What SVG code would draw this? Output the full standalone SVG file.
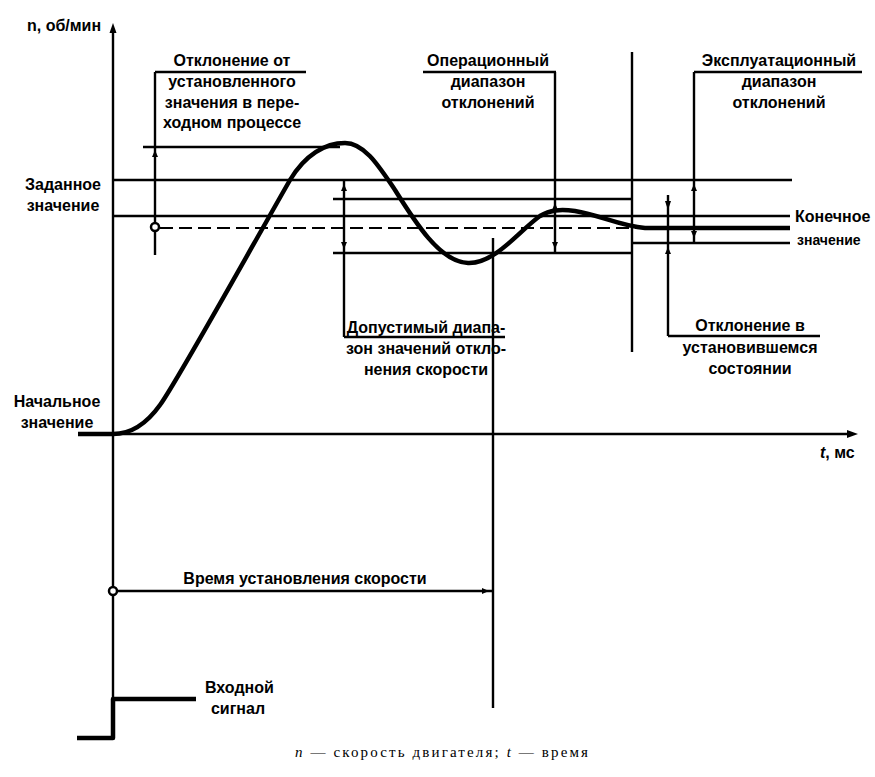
<svg xmlns="http://www.w3.org/2000/svg" width="875" height="777" viewBox="0 0 875 777">
<style>
.ln{stroke:#000;stroke-width:2.4;fill:none}
.th{stroke:#000;stroke-width:4.5;fill:none;stroke-linejoin:round}
.ds{stroke:#000;stroke-width:2.2;fill:none;stroke-dasharray:13 6}
.t{font-family:"Liberation Sans",Arial,sans-serif;font-weight:bold;font-size:16px;fill:#000}
.m{text-anchor:middle}
.cap{font-family:"Liberation Serif","Times New Roman",serif;font-size:15px;fill:#000}
.tk{fill:#000}
.dot{fill:#fff;stroke:#000;stroke-width:2.5}
</style>
<rect width="875" height="777" fill="#fff"/>
<g id="axes">
<line class="ln" x1="113" y1="30" x2="113" y2="698"/>
<path class="tk" d="M113 23 L109.5 33 L116.5 33 Z"/>
<line class="ln" x1="113" y1="434" x2="850" y2="434"/>
<path class="tk" d="M858 434 L847 430 L847 438 Z"/>
<text class="t" x="27" y="31">n, об/мин</text>
<text class="t" x="820" y="458"><tspan font-style="italic">t</tspan>, мс</text>
</g>
<g id="connectors">
<line class="ln" x1="143" y1="147" x2="340" y2="147"/>
<line class="ln" x1="113" y1="180" x2="792" y2="180"/>
<line class="ln" x1="333" y1="199" x2="632" y2="199"/>
<line class="ln" x1="113" y1="216" x2="790" y2="216"/>
<line class="ds" x1="160" y1="228" x2="640" y2="228"/>
<line class="ln" x1="632" y1="243" x2="790" y2="243"/>
<line class="ln" x1="333" y1="253" x2="632" y2="253"/>
<line class="ln" x1="155" y1="72" x2="306" y2="72"/>
<line class="ln" x1="155" y1="72" x2="155" y2="255"/>
<line class="ln" x1="423" y1="72" x2="556" y2="72"/>
<line class="ln" x1="555" y1="72" x2="555" y2="253"/>
<line class="ln" x1="694" y1="72" x2="862" y2="72"/>
<line class="ln" x1="694" y1="72" x2="694" y2="243"/>
<line class="ln" x1="632" y1="52" x2="632" y2="352"/>
<line class="ln" x1="344" y1="180" x2="344" y2="337"/>
<line class="ln" x1="344" y1="337" x2="505" y2="337"/>
<line class="ln" x1="668" y1="195" x2="668" y2="336"/>
<line class="ln" x1="668" y1="336" x2="820" y2="336"/>
<line class="ln" x1="493" y1="238" x2="493" y2="708"/>
<line class="ln" x1="113" y1="591" x2="493" y2="591"/>
<path class="tk" d="M155 150 L152 157 L158 157 Z"/>
<path class="tk" d="M344 184 L341 191 L347 191 Z"/>
<path class="tk" d="M344 249 L341 242 L347 242 Z"/>
<path class="tk" d="M555 203 L552 210 L558 210 Z"/>
<path class="tk" d="M555 249 L552 242 L558 242 Z"/>
<path class="tk" d="M694 184 L691 191 L697 191 Z"/>
<path class="tk" d="M694 238 L691 231 L697 231 Z"/>
<path class="tk" d="M668 210 L665 201 L671 201 Z"/>
<path class="tk" d="M668 247 L665 254 L671 254 Z"/>
<path class="tk" d="M489 591 L482 588 L482 594 Z"/>
<circle class="dot" cx="155" cy="227" r="4"/>
<circle class="dot" cx="113" cy="591" r="4"/>
</g>
<g id="curve">
<path class="th" d="M78 434 L113 434 C130 434 145 426 160 405 C175 385 250 250 290 180 C305 155 325 143 345 143 C365 143 380 168 395 190 C415 222 440 262 468 263 C495 264 520 230 540 216 C550 210 560 209 575 211 C600 215 620 226 645 228 L790 228"/>
</g>
<g id="input-signal">
<path class="th" d="M77 738 L113 738 L113 699 L196 699"/>
<text class="t" x="205" y="693">Входной</text>
<text class="t m" x="238" y="714">сигнал</text>
</g>
<g id="label-transient">
<text class="t m" x="232" y="66">Отклонение от</text>
<text class="t m" x="232" y="87">установленного</text>
<text class="t m" x="232" y="108">значения в пере-</text>
<text class="t m" x="232" y="128">ходном процессе</text>
</g>
<g id="label-operational">
<text class="t m" x="488" y="66">Операционный</text>
<text class="t m" x="488" y="87">диапазон</text>
<text class="t m" x="488" y="108">отклонений</text>
</g>
<g id="label-exploitation">
<text class="t m" x="779" y="66">Эксплуатационный</text>
<text class="t m" x="779" y="87">диапазон</text>
<text class="t m" x="779" y="108">отклонений</text>
</g>
<g id="label-setpoint">
<text class="t m" x="63" y="190">Заданное</text>
<text class="t m" x="63" y="211">значение</text>
</g>
<g id="label-final">
<text class="t" x="795" y="222">Конечное</text>
<text class="t" x="797" y="245" style="font-size:14px">значение</text>
</g>
<g id="label-permissible">
<text class="t m" x="426" y="333">Допустимый диапа-</text>
<text class="t m" x="426" y="354">зон значений откло-</text>
<text class="t m" x="426" y="375">нения скорости</text>
</g>
<g id="label-steady">
<text class="t m" x="750" y="331">Отклонение в</text>
<text class="t m" x="750" y="353">установившемся</text>
<text class="t m" x="750" y="374">состоянии</text>
</g>
<g id="label-initial">
<text class="t m" x="57" y="407">Начальное</text>
<text class="t m" x="57" y="428">значение</text>
</g>
<g id="label-settling">
<text class="t m" x="305" y="584">Время установления скорости</text>
</g>
<g id="caption">
<text class="cap" x="295" y="757" textLength="293" lengthAdjust="spacing"><tspan font-style="italic">n</tspan> — скорость двигателя; <tspan font-style="italic">t</tspan> — время</text>
</g>
</svg>
